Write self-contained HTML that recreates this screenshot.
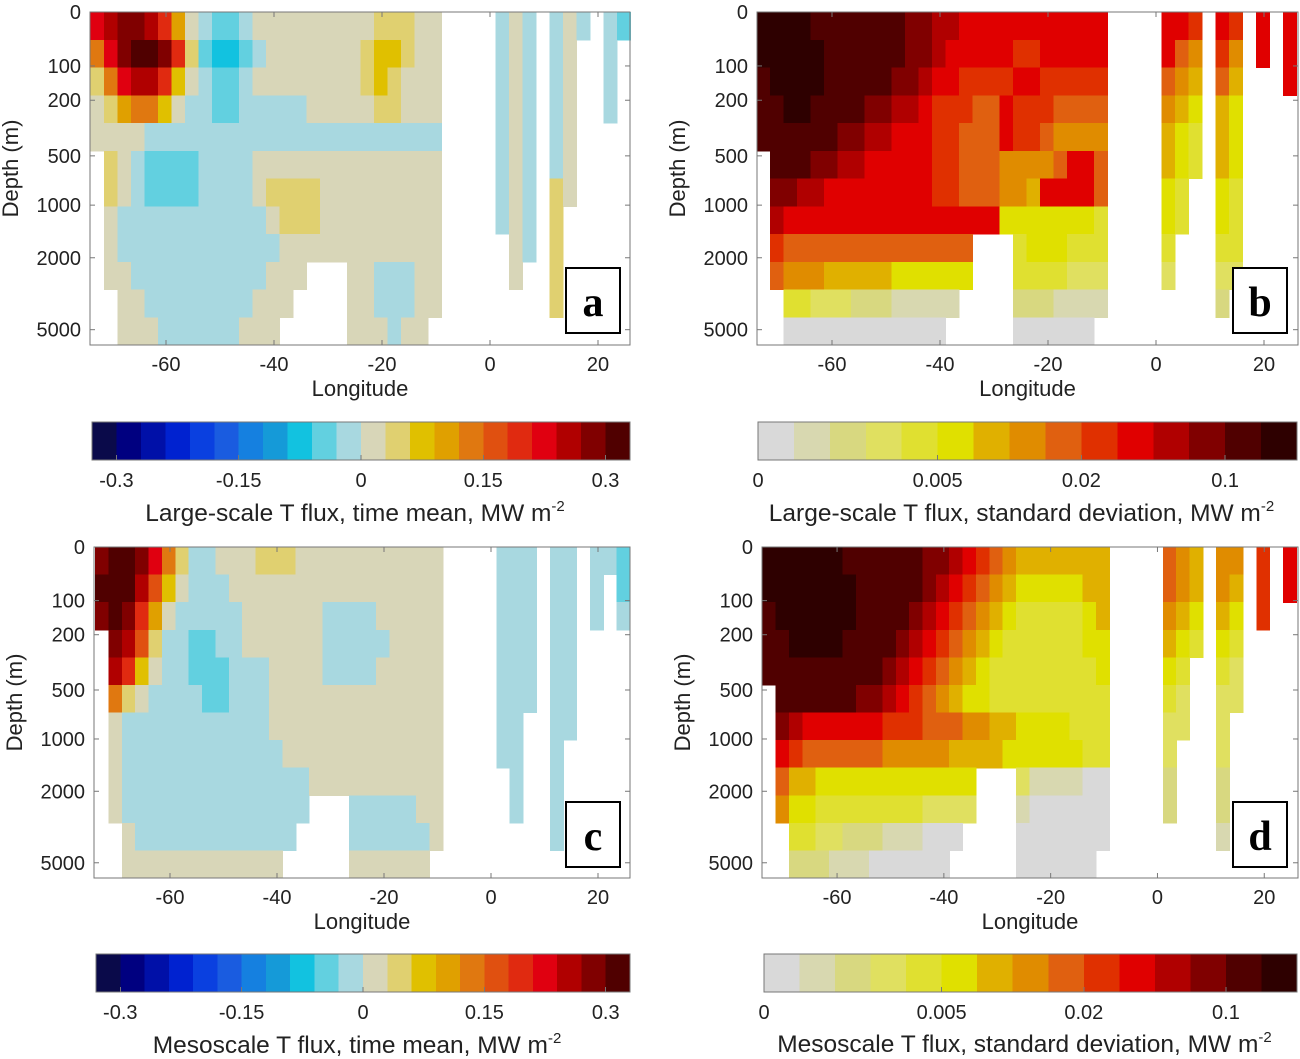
<!DOCTYPE html>
<html><head><meta charset="utf-8"><style>
html,body{margin:0;padding:0;background:#fff}
svg{display:block}
text{font-family:"Liberation Sans",sans-serif;fill:#222}
</style></head><body>
<svg id="fig" width="1300" height="1059" viewBox="0 0 1300 1059" xmlns="http://www.w3.org/2000/svg"></svg>
<script>
// ---- data ----
const lonTicks=[-60,-40,-20,0,20];
const depthTicks=[0,100,200,500,1000,2000,5000];
const divTickLabels=['-0.3','-0.15','0','0.15','0.3'];
const divTickIdx=[1,6,11,16,21];
const seqTickLabels=['0','0.005','0.02','0.1'];
const seqTickIdx=[0,5,9,13];
const divColors=['#0a0a4a','#000080','#0010a8','#0022d0','#0a40e0','#1a5ce0','#1580e0','#159ad8','#12c2e0','#62d0e0','#a8d8e0','#d8d6b8','#e0d070','#e0c000','#e0a000','#e07810','#e05010','#e02a10','#e00010','#b00000','#800000','#500000'];
const seqColors=['#d9d9d9','#d8d8b0','#d8d880','#e0e060','#e0e030','#e0e000','#e0b000','#e08c00','#e06010','#e03000','#e00000','#b00000','#800000','#500000','#2e0000'];
const aWest=["IJKKJHEBA99ABBBBBBBBBCCCBB","FIKLLKHC9889ABBBBBBBCDDCBB","CFIJJHDBA99ABBBBBBBBCDCBBB","BCEFFDBAA99AAAAABBBBBCCBBB","BBBBAAAAAAAAAAAAAAAAAAAAAA",".CBA9999AAAABBBBBBBBBBBBBB",".CBA9999AAAABCCCCBBBBBBBBB",".BAAAAAAAAAAABCCCBBBBBBBBB",".BAAAAAAAAAAAABBBBBBBBBBBB",".BBAAAAAAAAAABBB...BBAAABB","..BBAAAAAAAABBB....BBAAABB","..BBBAAAAAABBB.....BBBABB."];
const aEast=["ABA.ABA.A9","ABA.AB..A.","ABA.AB..A.","ABA.AB..A.","ABA.AB....","ABA.AB....","ABA.CB....","ABA.C.....",".BA.C.....",".B..C.....","....C.....",".........."];
const bWest=["EEEEDDDDDDDCCBBAAAAAAAAAAA","EEEEEDDDDDDCCBAAAAA99AAAAA","DEEEEDDDDDCCBAA9999AA99999","DDEEDDDDCCBBA99988A9998888","DDDDDDCCBBAAA99888A9987777",".DDDCCBBAAAAA9988877778AA8",".CCBBAAAAAAAA99888776AAAA8",".BAAAAAAAAAAAAAAAA55555554",".988888888888888...4555444",".877766666555555...4444333","..4433322211111....2221111","..000000000000.....000000."];
const bEast=["AA9.A9.A.A","A87.97.A.A","876.86...A","765.65....","654.65....","654.65....","54..54....","54..54....","4...44....","3...33....","....2.....",".........."];
const cWest=["KLLKIFCAABBBCCCBBBBBBBBBBB","LLLJGDBAAABBBBBBBBBBBBBBBB","KLKHEBAAAAABBBBBBAAAABBBBB",".KJGCAA99AABBBBBBAAAAABBBB",".JHDBAA999AAABBBBAAAABBBBB",".FCBAAAA99AAABBBBBBBBBBBBB",".BAAAAAAAAAAABBBBBBBBBBBBB",".BAAAAAAAAAAAABBBBBBBBBBBB",".BAAAAAAAAAAAAAABBBBBBBBBB",".BAAAAAAAAAAAAAA...AAAAABB","..BAAAAAAAAAAAA....AAAAAAB","..BBBBBBBBBBBB.....BBBBBB."];
const cEast=["AAA.AA.AA9","AAA.AA.A.9","AAA.AA.A.A","AAA.AA....","AAA.AA....","AAA.AA....","AA..AA....","AA..A.....",".A..A.....",".A..A.....","....A.....",".........."];
const dWest=["EEEEEEDDDDDDCCBA9876666666","EEEEEEEDDDDDCBA98765555566","DEEEEEEDDDDCBA987654444456","DDEEEEDDDDCBA9876544444455","DDDDDDDDDCBA98765444444445",".DDDDDDCCBA987655444444444",".CBAAAAAA99988877665555444",".A988888877777666655555544",".866555555555555...3111100",".755444444443333...1000000","..4433222111000....0000000","..222111000000.....000000."];
const dEast=["876.77.9.A","876.76.9.A","765.65.9..","654.54....","54..43....","43..33....","33..3.....","3...3.....","2...2.....","2...2.....","....1.....",".........."];

// ---- drawing ----
const NS='http://www.w3.org/2000/svg';
const svg=document.getElementById('fig');
function mk(tag,attrs,parent){const e=document.createElementNS(NS,tag);for(const k in attrs)e.setAttribute(k,attrs[k]);(parent||svg).appendChild(e);return e;}
function txt(s,x,y,size,anchor,parent){const t=mk('text',{x:x,y:y,'font-size':size,'text-anchor':anchor||'middle'},parent);t.textContent=s;return t;}
function code(ch){if(ch>='0'&&ch<='9')return ch.charCodeAt(0)-48;return ch.charCodeAt(0)-55;}
const depthFrac=[0,0.162,0.265,0.432,0.58,0.738,0.954];
const LON0=-74,LON1=26,NCOL=40,NROW=12;

const panels=[
 {id:'a',x0:90.4,x1:630.4,bx0:90,bx1:630,y0:12,y1:345,west:aWest,east:aEast,pal:divColors,
  cb:{x0:92,x1:630,y0:422,y1:460,labels:divTickLabels,idx:divTickIdx,title:'Large-scale T flux, time mean, MW m',ty:521},lb:[566,268]},
 {id:'b',x0:756.4,x1:1296.4,bx0:757,bx1:1298,y0:12,y1:345,west:bWest,east:bEast,pal:seqColors,
  cb:{x0:758,x1:1297,y0:422,y1:460,labels:seqTickLabels,idx:seqTickIdx,title:'Large-scale T flux, standard deviation, MW m',ty:521},lb:[1233,268]},
 {id:'c',x0:95.1,x1:630.1,bx0:94,bx1:630,y0:547,y1:878,west:cWest,east:cEast,pal:divColors,
  cb:{x0:96,x1:630,y0:954,y1:992,labels:divTickLabels,idx:divTickIdx,title:'Mesoscale T flux, time mean, MW m',ty:1053},lb:[566,802]},
 {id:'d',x0:762.3,x1:1296.3,bx0:762,bx1:1298,y0:547,y1:878,west:dWest,east:dEast,pal:seqColors,
  cb:{x0:764,x1:1297,y0:954,y1:992,labels:seqTickLabels,idx:seqTickIdx,title:'Mesoscale T flux, standard deviation, MW m',ty:1052},lb:[1233,802]}
];

panels.forEach(p=>{
  const g=mk('g',{});
  
  
  const xs=lon=>p.x0+(lon-LON0)/(LON1-LON0)*(p.x1-p.x0);
  const H=p.y1-p.y0;
  const ys=d=>{for(let i=1;i<depthTicks.length;i++){if(d<=depthTicks[i]){const f=depthFrac[i-1]+(d-depthTicks[i-1])/(depthTicks[i]-depthTicks[i-1])*(depthFrac[i]-depthFrac[i-1]);return p.y0+f*H;}}return p.y0+depthFrac[depthFrac.length-1]*H;};
  const field=mk('g',{'shape-rendering':'crispEdges'},g);
  
  
  const rh=H/NROW;
  for(let r=0;r<NROW;r++){
    const row=(p.west[r]+'....'+p.east[r]).padEnd(NCOL,'.');
    for(let c=0;c<NCOL;c++){
      const ch=row[c]; if(ch==='.')continue;
      const x=xs(LON0+c*2.5), x2=xs(LON0+(c+1)*2.5);
      const cell=mk('rect',{x:x,y:p.y0+r*rh,width:x2-x+0.6,height:rh+0.6,fill:p.pal[code(ch)]},field);
      
      
    }
  }
  const box=mk('rect',{x:p.bx0,y:p.y0,width:p.bx1-p.bx0,height:H,fill:'none',stroke:'#777','stroke-width':1},g);
  
  
  lonTicks.forEach(l=>{const x=xs(l);
    mk('line',{x1:x,x2:x,y1:p.y1,y2:p.y1-5,stroke:'#777'},g);
    mk('line',{x1:x,x2:x,y1:p.y0,y2:p.y0+5,stroke:'#777'},g);
    const t=txt(String(l),x,p.y1+26,20,'middle',g);
    
    
  });
  depthTicks.forEach(d=>{const y=ys(d);
    mk('line',{x1:p.bx0,x2:p.bx0+5,y1:y,y2:y,stroke:'#777'},g);
    mk('line',{x1:p.bx1,x2:p.bx1-5,y1:y,y2:y,stroke:'#777'},g);
    const t=txt(String(d),p.bx0-9,y+7,20,'end',g);
    
    
  });
  const xt=txt('Longitude',(p.bx0+p.bx1)/2,p.y1+51,22,'middle',g);
  
  
  const yc=(p.y0+p.y1)/2-10, yx=p.bx0-72;
  const yt=txt('Depth (m)',yx,yc,22,'middle',g);
  yt.setAttribute('transform','rotate(-90 '+yx+' '+yc+')');
  
  
  const lb=mk('rect',{x:p.lb[0],y:p.lb[1],width:54,height:65,fill:'#fff',stroke:'#000','stroke-width':2},g);
  
  
  const lt=txt(p.id,p.lb[0]+27,p.lb[1]+48,42,'middle',g);
  lt.setAttribute('style','font-family:"Liberation Serif",serif;font-weight:bold;fill:#000');
  
  
  const cb=p.cb, n=p.pal.length, sw=(cb.x1-cb.x0)/n;
  const cg=mk('g',{'shape-rendering':'crispEdges'},g);
  
  
  p.pal.forEach((col,i)=>{
    const s=mk('rect',{x:cb.x0+i*sw,y:cb.y0,width:sw+0.6,height:cb.y1-cb.y0,fill:col},cg);
    
    
  });
  mk('rect',{x:cb.x0,y:cb.y0,width:cb.x1-cb.x0,height:cb.y1-cb.y0,fill:'none',stroke:'#777'},cg);
  cb.labels.forEach((lab,i)=>{const x=cb.x0+cb.idx[i]*sw;
    mk('line',{x1:x,x2:x,y1:cb.y1,y2:cb.y1-5,stroke:'#777'},cg);
    const t=txt(lab,x,cb.y0+65,20,'middle',g);
    
    
  });
  const ct=txt(cb.title,(cb.x0+cb.x1)/2-6,cb.ty,24.5,'middle',g);
  const sup=document.createElementNS(NS,'tspan');
  sup.setAttribute('dy','-10');sup.setAttribute('font-size','15');sup.textContent='-2';
  ct.appendChild(sup);
  
  
});
</script>
</body></html>
